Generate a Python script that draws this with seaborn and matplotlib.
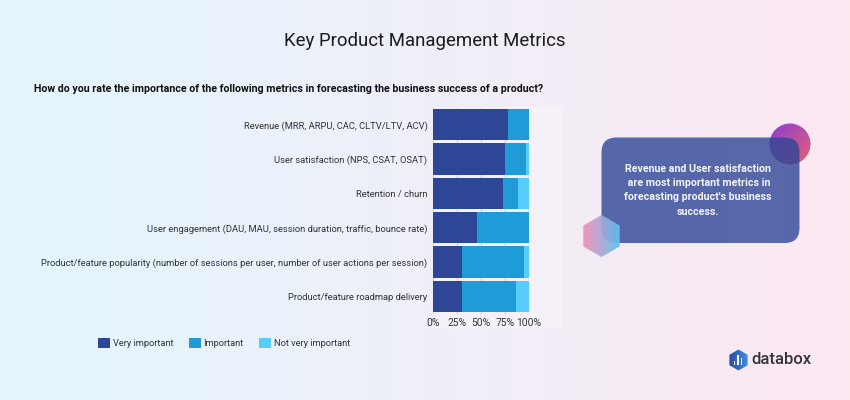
import numpy as np
import pandas as pd
import matplotlib
matplotlib.use('Agg')
import matplotlib.pyplot as plt
from matplotlib.colors import LinearSegmentedColormap
from matplotlib.patches import Circle, FancyBboxPatch, Polygon, Patch, Rectangle
import seaborn as sns

metrics = [
    'Revenue (MRR, ARPU, CAC, CLTV/LTV, ACV)',
    'User satisfaction (NPS, CSAT, OSAT)',
    'Retention / churn',
    'User engagement (DAU, MAU, session duration, traffic, bounce rate)',
    'Product/feature popularity (number of sessions per user, number of user actions per session)',
    'Product/feature roadmap delivery',
]
very_important = [78.6, 75.8, 73.0, 46.0, 30.0, 30.0]
important = [21.4, 21.7, 16.5, 54.0, 64.8, 56.8]
not_very_important = [0.0, 2.5, 10.5, 0.0, 5.2, 13.2]
series_names = ['Very important', 'Important', 'Not very important']
series_colors = ['#2e4696', '#1f9bd8', '#56cdfb']
tick_values = [0, 25, 50, 75, 100]
tick_labels = ['0%', '25%', '50%', '75%', '100%']

W, H = 850, 400

sns.set_theme(style='white')
plt.rcParams['font.family'] = ['Roboto', 'DejaVu Sans']

fig = plt.figure(figsize=(8.5, 4), dpi=100)

# page background gradient + overlay in pixel coords
bg = fig.add_axes([0, 0, 1, 1], zorder=0)
bg_cmap = LinearSegmentedColormap.from_list('bg', ['#e3f6fe', '#efeff8', '#fde8f2'])
bg.imshow(np.linspace(0, 1, 850).reshape(1, -1), cmap=bg_cmap, extent=[0, W, H, 0], aspect='auto')
bg.set_xlim(0, W)
bg.set_ylim(H, 0)
bg.axis('off')
bg.add_patch(Rectangle((433, 107), 130, 222, color='white', alpha=0.25, lw=0))

# chart
ax = fig.add_axes([433 / W, 1 - 313.5 / H, 95.5 / W, 206 / H], zorder=2)
ax.patch.set_alpha(0)
df = pd.DataFrame({'metric': metrics, 'a': very_important, 'b': important, 'c': not_very_important})
df['to_b'] = df['a'] + df['b']
df['to_c'] = df['to_b'] + df['c']
for col, color in zip(['to_c', 'to_b', 'a'], series_colors[::-1]):
    sns.barplot(data=df, x=col, y='metric', color=color, saturation=1, width=0.92, ax=ax, orient='y',
                zorder=3, linewidth=0)
ax.set_xlim(0, 100)
ax.set_xticks(tick_values)
ax.set_xticklabels(tick_labels, fontsize=7.4, color='#333333')
ax.set_xlabel('')
ax.set_ylabel('')
ax.tick_params(axis='y', labelsize=6.75, labelcolor='#333333', length=0, pad=4)
ax.tick_params(axis='x', length=0, pad=3)
ax.grid(axis='x', color='#d4d4dc', lw=1)
ax.set_axisbelow(True)
sns.despine(ax=ax, left=True, bottom=True)

# titles
bg.text(425, 40.5, 'Key Product Management Metrics', ha='center', va='center', fontsize=13.4, color='#1c1c1c')
bg.text(34, 89, 'How do you rate the importance of the following metrics in forecasting the business success of a product?',
        ha='left', va='center', fontsize=7.65, fontweight='bold', color='#111111')

# legend
handles = [Patch(facecolor=c, label=n, linewidth=0) for c, n in zip(series_colors, series_names)]
fig.legend(handles=handles, loc='upper left', bbox_to_anchor=(90 / W, 1 - 329.5 / H), ncol=3, frameon=False,
           fontsize=6.7, handlelength=1.3, handleheight=1.3, handletextpad=0.3, columnspacing=1.6,
           labelcolor='#333333')


def gradient_shape(axis, patch, colors, box, angle=0):
    # fill a patch with a linear gradient
    cmap = LinearSegmentedColormap.from_list('g', colors)
    axis.add_patch(patch)
    patch.set_facecolor('none')
    patch.set_edgecolor('none')
    if angle:
        xx, yy = np.meshgrid(np.linspace(0, 1, 64), np.linspace(0, 1, 64))
        arr = (xx + yy) / 2
    else:
        arr = np.linspace(0, 1, 64).reshape(1, -1)
    im = axis.imshow(arr, cmap=cmap, extent=[box[0], box[1], box[3], box[2]], aspect='auto', zorder=patch.get_zorder())
    im.set_clip_path(patch)
    axis.set_xlim(0, W)
    axis.set_ylim(H, 0)


def hexagon(cx, cy, r):
    angles = np.deg2rad([90, 30, -30, -90, -150, 150])
    return np.column_stack([cx + r * np.cos(angles), cy + r * np.sin(angles)])


# callout card and decorations
gradient_shape(bg, Circle((790, 144), 20.5, zorder=3), ['#8a3fd6', '#e8606e'], (769, 811, 123, 165), angle=1)
bg.add_patch(FancyBboxPatch((615.5, 151.5), 170, 77.5, boxstyle='round,pad=14,rounding_size=15',
                            facecolor='#2e4696', edgecolor='none', alpha=0.8, zorder=4))
gradient_shape(bg, Polygon(hexagon(601.5, 236, 21), zorder=5), ['#f48db8', '#5cc4f2'], (583, 620, 215, 257))
bg.images[-1].set_alpha(0.92)

card_lines = ['Revenue and User satisfaction', ' are most important metrics in',
              "forecasting product's business", 'success.']
for line, y in zip(card_lines, [168.5, 183, 197.5, 212]):
    bg.text(698, y, line, ha='center', va='center', fontsize=7.7, fontweight='bold', color='#f3f3fb', zorder=6)

# databox logo
gradient_shape(bg, Polygon(hexagon(738.5, 360, 10.5), zorder=5), ['#2a4aa8', '#3f8fe0'], (729, 748, 349, 371))
for bx, top, bottom in [(734.5, 361, 365), (738, 355, 365), (741.5, 358, 365)]:
    bg.add_patch(Rectangle((bx - 0.9, top), 1.8, bottom - top, color='white', lw=0, zorder=6))
bg.text(751, 359.5, 'databox', ha='left', va='center', fontsize=12, fontweight='medium', color='#33343c', zorder=6)

fig.savefig('out.png', dpi=100)
